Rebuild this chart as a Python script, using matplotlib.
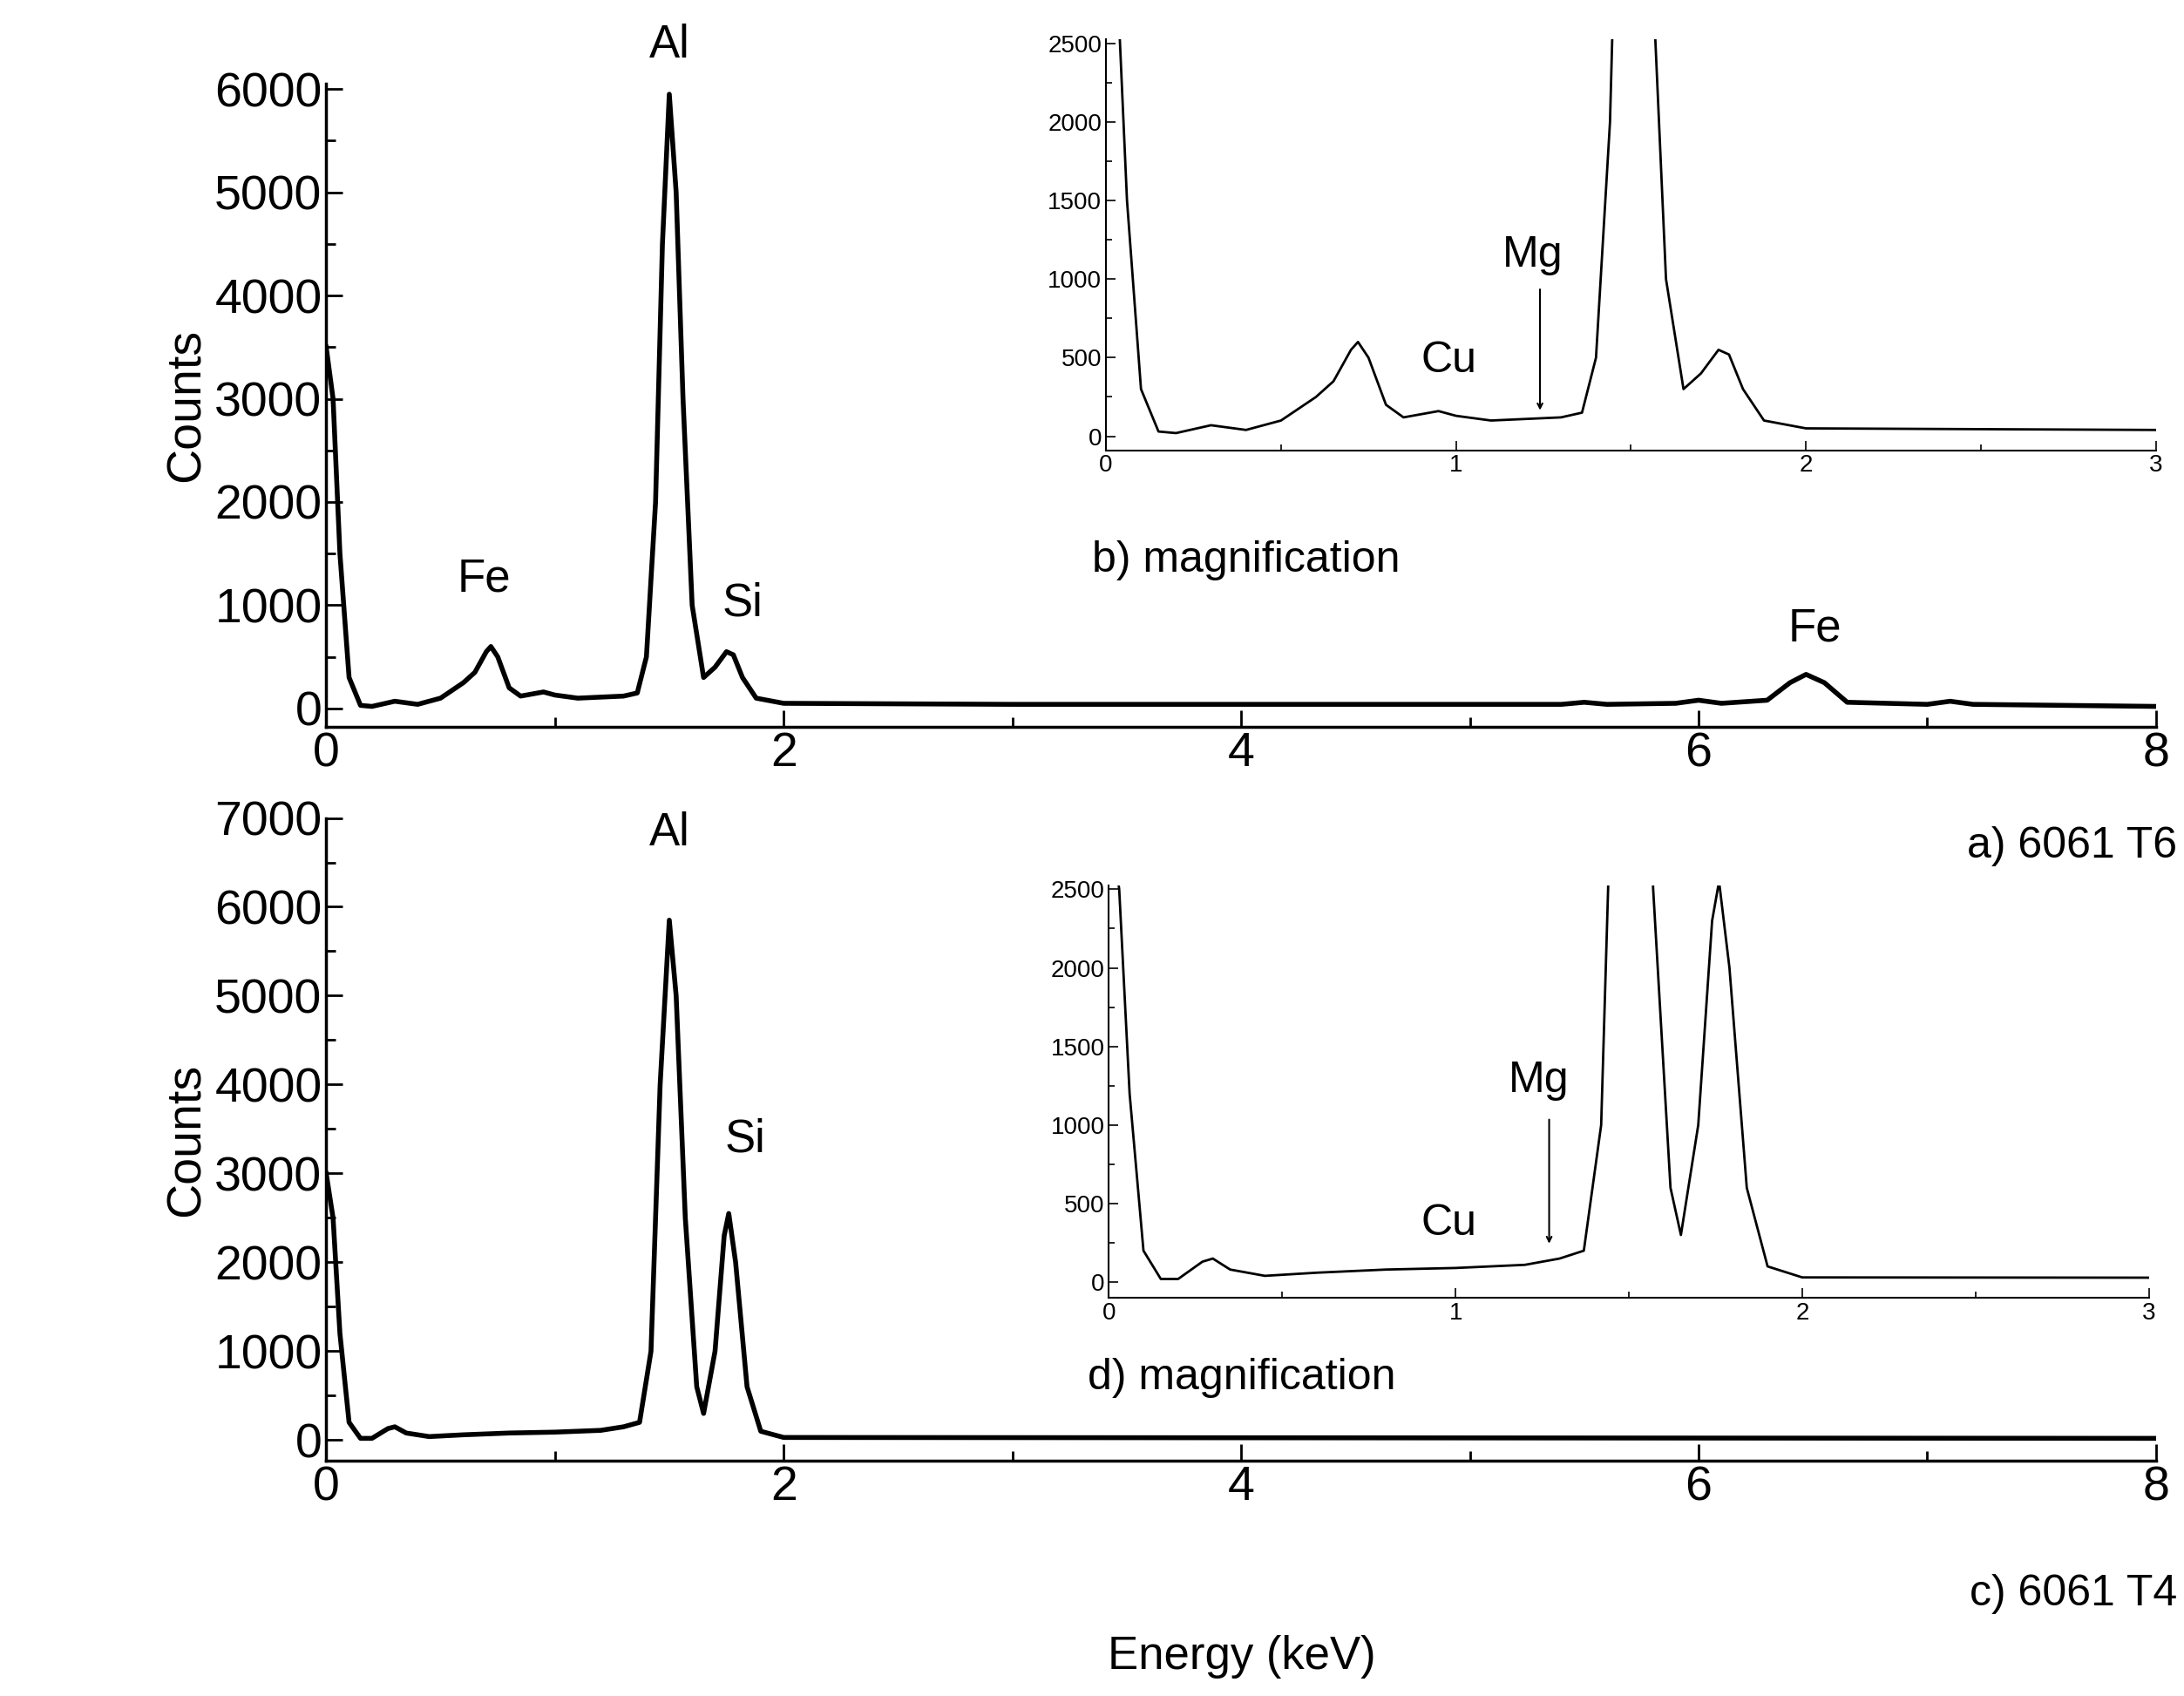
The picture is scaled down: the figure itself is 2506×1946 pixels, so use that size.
import matplotlib.pyplot as plt
from matplotlib.ticker import MultipleLocator

plt.rcParams['font.family'] = 'Liberation Sans'

# spectrum of 6061 T6 (energy keV, counts)
e_t6 = [0, 0.03, 0.06, 0.1, 0.15, 0.2, 0.3, 0.4, 0.5, 0.6, 0.65, 0.7, 0.72, 0.75, 0.8, 0.85,
        0.95, 1.0, 1.1, 1.2, 1.3, 1.36, 1.4, 1.44, 1.47, 1.5, 1.53, 1.56, 1.6, 1.65, 1.7, 1.75,
        1.78, 1.82, 1.88, 2.0, 3.0, 4.0, 5.4, 5.5, 5.6, 5.9, 6.0, 6.1, 6.3, 6.4, 6.47, 6.55,
        6.65, 7.0, 7.1, 7.2, 8.0]
c_t6 = [3500, 3000, 1500, 300, 30, 20, 70, 40, 100, 250, 350, 550, 600, 500, 200, 120,
        160, 130, 100, 110, 120, 150, 500, 2000, 4500, 5950, 5000, 3000, 1000, 300, 400, 550,
        520, 300, 100, 50, 40, 40, 40, 60, 40, 50, 80, 50, 80, 250, 330, 250,
        60, 40, 70, 40, 20]
# spectrum of 6061 T4
e_t4 = [0, 0.03, 0.06, 0.1, 0.15, 0.2, 0.27, 0.3, 0.35, 0.45, 0.6, 0.8, 1.0, 1.2, 1.3, 1.37,
        1.42, 1.46, 1.5, 1.53, 1.57, 1.62, 1.65, 1.7, 1.74, 1.76, 1.79, 1.84, 1.9, 2.0, 8.0]
c_t4 = [3000, 2500, 1200, 200, 20, 20, 130, 150, 80, 40, 60, 80, 90, 110, 150, 200,
        1000, 4000, 5850, 5000, 2500, 600, 300, 1000, 2300, 2550, 2000, 600, 100, 30, 20]

W, H = 1560, 1213
fig = plt.figure(figsize=(25.06, 19.46), dpi=100)


def style(ax, fs, xmaj, xmin, ymaj, ymin):
    for s in ['top', 'right']:
        ax.spines[s].set_visible(False)
    for s in ['left', 'bottom']:
        ax.spines[s].set_linewidth(2.5 if fs > 25 else 1.5)
    ax.xaxis.set_major_locator(MultipleLocator(xmaj))
    ax.xaxis.set_minor_locator(MultipleLocator(xmin))
    ax.yaxis.set_major_locator(MultipleLocator(ymaj))
    ax.yaxis.set_minor_locator(MultipleLocator(ymin))
    ax.tick_params(which='both', direction='in', labelsize=fs, width=2 if fs > 25 else 1.2)
    ax.tick_params(which='major', length=14 if fs > 25 else 8)
    ax.tick_params(which='minor', length=8 if fs > 25 else 5)


def box(l, r, b, t):
    return [l / W, 1 - b / H, (r - l) / W, (b - t) / H]


# top main panel
ax1 = fig.add_axes(box(233, 1540, 520, 60))
ax1.plot(e_t6, c_t6, color='black', lw=4)
ax1.set_xlim(0, 8)
ax1.set_ylim(-180, 6050)
style(ax1, 40, 2, 1, 1000, 500)
ax1.set_ylabel('Counts', fontsize=40, labelpad=4)
for x, y, t in [(1.5, 6420, 'Al'), (0.69, 1250, 'Fe'), (1.82, 1015, 'Si'), (6.51, 770, 'Fe')]:
    ax1.text(x, y, t, fontsize=38, ha='center', va='center')

# bottom main panel
ax2 = fig.add_axes(box(233, 1540, 1045, 585))
ax2.plot(e_t4, c_t4, color='black', lw=4)
ax2.set_xlim(0, 8)
ax2.set_ylim(-236, 7000)
style(ax2, 40, 2, 1, 1000, 500)
ax2.set_ylabel('Counts', fontsize=40, labelpad=4)
for x, y, t in [(1.5, 6830, 'Al'), (1.83, 3380, 'Si')]:
    ax2.text(x, y, t, fontsize=38, ha='center', va='center')

fig.text(887 / W, 1 - 1185 / H, 'Energy (keV)', fontsize=38, ha='center', va='center')
fig.text(1555 / W, 1 - 605 / H, 'a) 6061 T6', fontsize=36, ha='right', va='center')
fig.text(1555 / W, 1 - 1140 / H, 'c) 6061 T4', fontsize=36, ha='right', va='center')

# inset b
axb = fig.add_axes(box(790, 1540, 322, 28))
axb.plot(e_t6, c_t6, color='black', lw=2)
axb.set_xlim(0, 3)
axb.set_ylim(-89, 2527)
style(axb, 20, 1, 0.5, 500, 250)
axb.text(-0.04, -790, 'b) magnification', fontsize=36, ha='left', va='center')
axb.text(0.98, 480, 'Cu', fontsize=36, ha='center', va='center')
axb.text(1.22, 1150, 'Mg', fontsize=36, ha='center', va='center')
axb.annotate('', xy=(1.24, 150), xytext=(1.24, 950),
             arrowprops=dict(arrowstyle='->', color='black', lw=1.5))

# inset d
axd = fig.add_axes(box(792, 1535, 928, 633))
axd.plot(e_t4, c_t4, color='black', lw=2)
axd.set_xlim(0, 3)
axd.set_ylim(-98, 2527)
style(axd, 20, 1, 0.5, 500, 250)
axd.text(-0.06, -610, 'd) magnification', fontsize=36, ha='left', va='center')
axd.text(0.98, 370, 'Cu', fontsize=36, ha='center', va='center')
axd.text(1.24, 1280, 'Mg', fontsize=36, ha='center', va='center')
axd.annotate('', xy=(1.27, 230), xytext=(1.27, 1050),
             arrowprops=dict(arrowstyle='->', color='black', lw=1.5))

plt.savefig('out.png', dpi=100)
